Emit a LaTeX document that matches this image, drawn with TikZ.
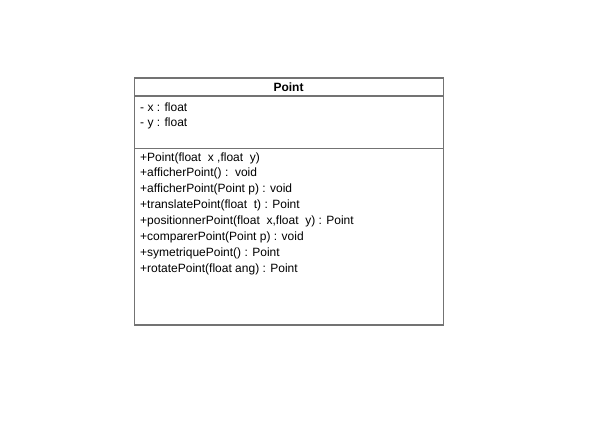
\documentclass[tikz,border=0pt]{standalone}
\usepackage{fontspec}
\setmainfont{Liberation Sans}
\begin{document}
\begin{tikzpicture}[x=1pt,y=-1pt,
  boxline/.style={draw=black!55,line width=1.2pt},
  member/.style={anchor=west,inner sep=0pt,font=\fontsize{12}{14}\selectfont,text=black},
  title/.style={anchor=center,inner sep=0pt,font=\fontsize{12}{14}\selectfont\bfseries,text=black}]
\useasboundingbox (0,0) rectangle (608,438);
\fill[white] (0,0) rectangle (608,438);
\node[boxline,minimum width=309pt,minimum height=247pt,anchor=north west,inner sep=0pt] (cls) at (134,77.5) {};
\coordinate (h1) at (134,96);
\coordinate (h2) at (443,96);
\coordinate (a1) at (134,148.5);
\coordinate (a2) at (443,148.5);
\draw[boxline] (h1) -- (h2);
\draw[boxline] (a1) -- (a2);
\node[title] (name) at (288.5,87) {Point};
\node[member] (ax) at (140,107) {- x : float};
\node[member] (ay) at (140,123) {- y : float};
\node[member] (m1) at (140,158) {+Point(float~~x ,float~~y)};
\node[member] (m2) at (140,173.5) {+afficherPoint() :~~void};
\node[member] (m3) at (140,189.5) {+afficherPoint(Point p) : void};
\node[member] (m4) at (140,205.5) {+translatePoint(float~~t) : Point};
\node[member] (m5) at (140,221.5) {+positionnerPoint(float~~x,float~~y) : Point};
\node[member] (m6) at (140,237.5) {+comparerPoint(Point p) : void};
\node[member] (m7) at (140,253.5) {+symetriquePoint() : Point};
\node[member] (m8) at (140,269.5) {+rotatePoint(float ang) : Point};
\end{tikzpicture}
\end{document}
